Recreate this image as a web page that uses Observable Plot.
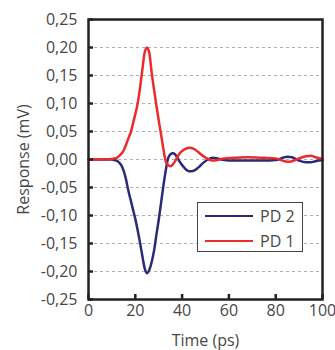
<!DOCTYPE html>
<html>
<head>
<meta charset="utf-8">
<script src="https://cdn.jsdelivr.net/npm/d3@7"></script>
<script src="https://cdn.jsdelivr.net/npm/@observablehq/plot@0.6"></script>
<style>
  html, body { margin: 0; padding: 0; background: #fff; }
  #wrap { position: relative; width: 335px; height: 350px; font-family: "Open Sans", sans-serif; }
  #legend { position: absolute; left: 197px; top: 202px; width: 104px; height: 48px;
    border: 1.5px solid #444; background: #fff; box-sizing: content-box; }
  .row { position: absolute; left: 0; height: 20px; display: flex; align-items: center; }
  .sw { display: inline-block; width: 48px; height: 0; border-top: 2.5px solid; margin-left: 7px; margin-right: 7px; }
  .lb { font-size: 16px; color: #474747; }
</style>
</head>
<body>
<div id="wrap"></div>
<script>
// ---- data ----
const time = [0,5,10,11,12,13,14,15,16,17,18,19,20,21,22,23,24,25,26,27,28,29,30,31,32,33,34,35,36,37,38,39,41,43,45,47,49,51,53,55,58,62,68,75,80,83,85,87,90,93,95,97,100];
const pd1 = [0,0,0.001,0.002,0.003,0.006,0.01,0.016,0.026,0.037,0.048,0.064,0.081,0.1,0.127,0.16,0.191,0.2,0.19,0.155,0.125,0.097,0.07,0.045,0.019,-0.003,-0.01,-0.012,-0.009,-0.003,0.004,0.011,0.018,0.021,0.019,0.013,0.006,0.001,-0.002,-0.001,0.002,0.003,0.004,0.003,0.002,-0.002,-0.004,-0.003,0.002,0.006,0.0065,0.004,0.001];
const pd2 = [0,0,0,-0.001,-0.002,-0.005,-0.01,-0.02,-0.035,-0.055,-0.072,-0.089,-0.106,-0.126,-0.148,-0.172,-0.194,-0.203,-0.197,-0.183,-0.163,-0.135,-0.108,-0.078,-0.047,-0.02,0.002,0.009,0.011,0.009,0.003,-0.004,-0.015,-0.021,-0.02,-0.014,-0.006,0,0.003,0.002,-0.001,-0.002,-0.002,-0.002,-0.001,0.003,0.005,0.004,-0.002,-0.005,-0.005,-0.003,-0.001];
const seriesNames = ["PD 2", "PD 1"];
const seriesColors = ["#2b2a78", "#ee2b2b"];
const xTicks = [0,20,40,60,80,100];
const yTicks = [-0.25,-0.2,-0.15,-0.1,-0.05,0,0.05,0.1,0.15,0.2,0.25];
const gridTicks = [-0.2,-0.15,-0.1,-0.05,0,0.05,0.1,0.15,0.2];
const xLabel = "Time (ps)";
const yLabel = "Response (mV)";

const rows = [];
time.forEach((t, i) => {
  rows.push({t, v: pd2[i], s: seriesNames[0]});
  rows.push({t, v: pd1[i], s: seriesNames[1]});
});
const fmt = d => d.toFixed(2).replace(".", ",");

const chart = Plot.plot({
  width: 335, height: 350,
  marginLeft: 88, marginRight: 13, marginTop: 19, marginBottom: 51,
  style: {fontFamily: "'Open Sans', sans-serif", fontSize: "16px", color: "#474747", background: "#fff"},
  x: {domain: [0, 100]},
  y: {domain: [-0.25, 0.25]},
  color: {domain: seriesNames, range: seriesColors},
  marks: [
    Plot.gridY(gridTicks, {stroke: "#b0b0b0", strokeOpacity: 1, strokeDasharray: "3,3", strokeWidth: 1}),
    Plot.line(rows, {x: "t", y: "v", z: "s", stroke: "s", strokeWidth: 2.5, curve: "monotone-x"}),
    Plot.axisY(yTicks, {tickSize: 0, tickPadding: 11, tickFormat: fmt, label: yLabel, labelAnchor: "center", labelArrow: "none", labelOffset: 71, fill: "#474747"}),
    Plot.axisY(yTicks, {tickSize: 5, dx: 5, fill: "none", stroke: "#222", strokeWidth: 2.5, label: null}),
    Plot.axisX(xTicks, {tickSize: 0, tickPadding: 5, label: xLabel, labelAnchor: "center", labelArrow: "none", labelOffset: 46, fill: "#474747"}),
    Plot.axisX(xTicks, {tickSize: 5, dy: -5, fill: "none", stroke: "#222", strokeWidth: 2.5, label: null}),
    Plot.frame({stroke: "#222", strokeWidth: 2.5})
  ]
});
const wrap = document.getElementById("wrap");
wrap.appendChild(chart);

const legend = document.createElement("div");
legend.id = "legend";
seriesNames.forEach((name, i) => {
  const row = document.createElement("div");
  row.className = "row";
  row.style.top = (3 + i * 25) + "px";
  const sw = document.createElement("span");
  sw.className = "sw";
  sw.style.borderTopColor = seriesColors[i];
  const lb = document.createElement("span");
  lb.className = "lb";
  lb.textContent = name;
  row.appendChild(sw); row.appendChild(lb);
  legend.appendChild(row);
});
wrap.appendChild(legend);
</script>
</body>
</html>
